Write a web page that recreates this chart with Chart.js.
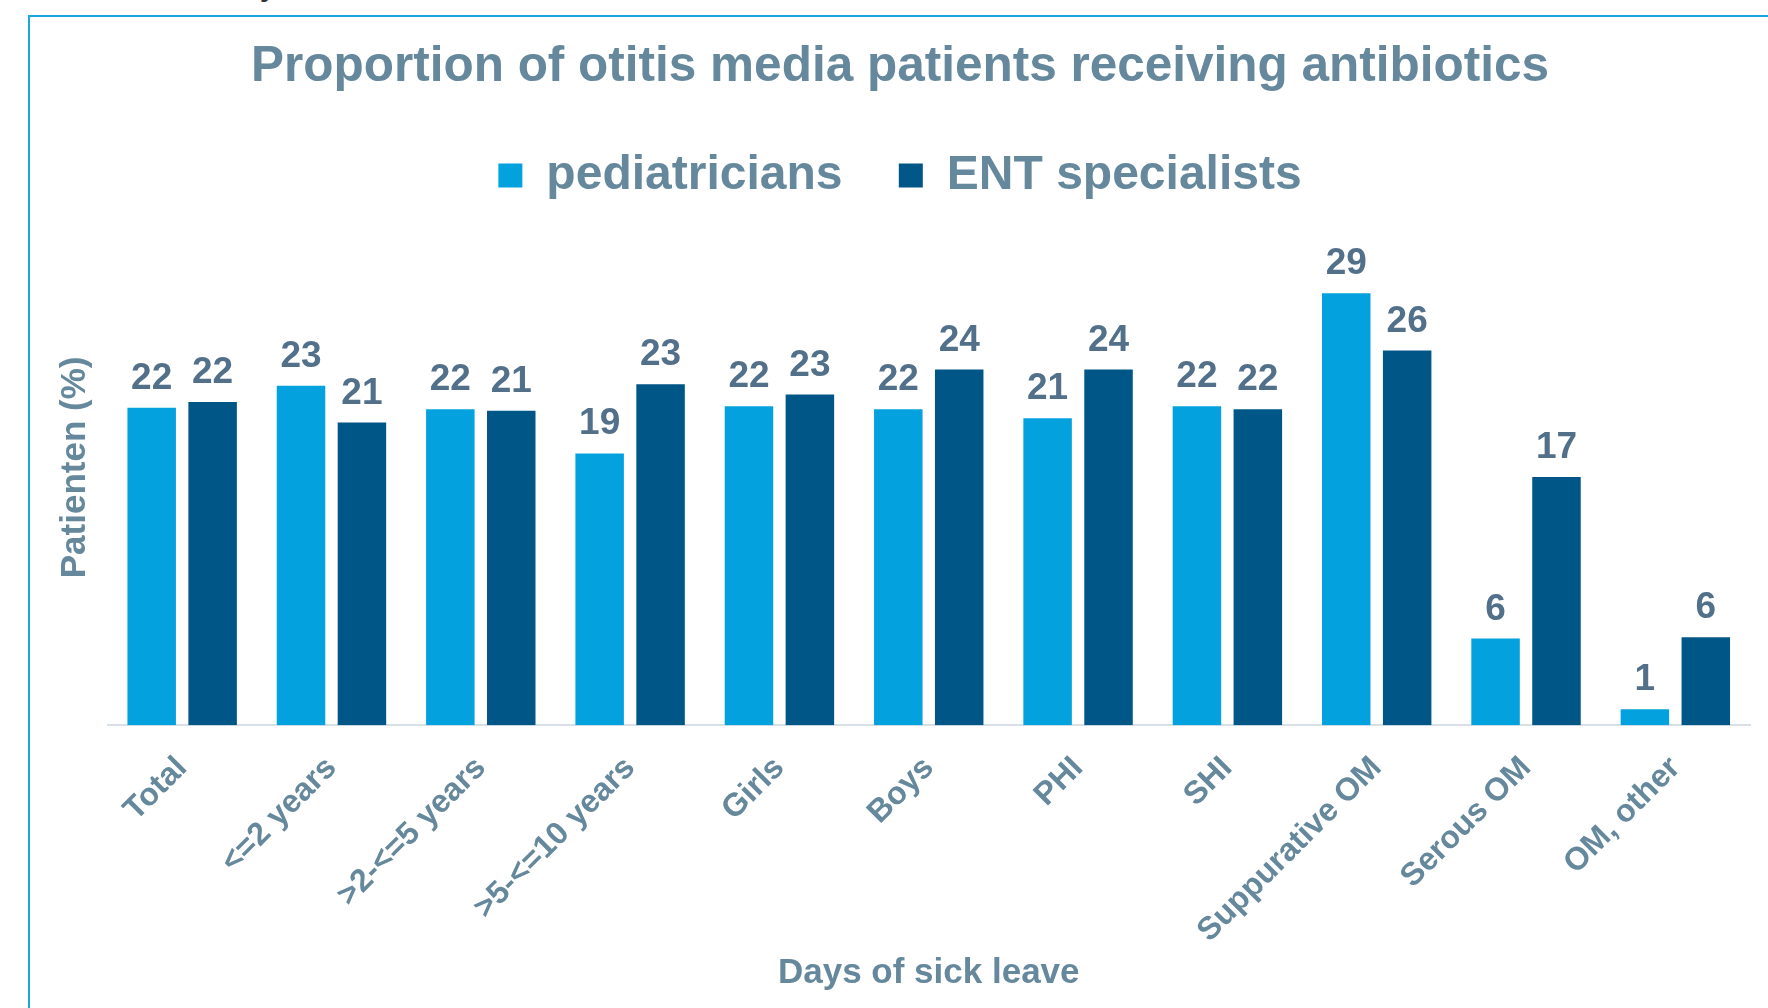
<!DOCTYPE html>
<html>
<head>
<meta charset="utf-8">
<script src="https://cdn.jsdelivr.net/npm/chart.js@4.4.1/dist/chart.umd.min.js"></script>
<style>
  html, body { margin: 0; padding: 0; background: #fff; overflow: hidden; }
  #frame { position: absolute; left: 28px; top: 15px; width: 1800px; height: 1100px; border: 2px solid #1ea6e0; }
  #stray { position: absolute; left: 260px; top: -27px; font: bold 28px "Liberation Sans", Arial, sans-serif; color: #333; line-height: 28px; }
  #chart { position: absolute; left: 0; top: 0; }
</style>
</head>
<body>
<div id="frame"></div>
<div id="stray">y</div>
<canvas id="chart" width="1768" height="1008"></canvas>
<script>
const categories = ['Total', '<=2 years', '>2-<=5 years', '>5-<=10 years', 'Girls', 'Boys', 'PHI', 'SHI', 'Suppurative OM', 'Serous OM', 'OM, other'];
const pediatricians = [21.6, 23.1, 21.5, 18.5, 21.7, 21.5, 20.9, 21.7, 29.4, 5.9, 1.1];
const entSpecialists = [22.0, 20.6, 21.4, 23.2, 22.5, 24.2, 24.2, 21.5, 25.5, 16.9, 6.0];

const FONT = '"Liberation Sans", Arial, sans-serif';
const textColor = '#66889c';

// value labels above each bar (rounded, like the original)
const valueLabels = {
  id: 'valueLabels',
  afterDatasetsDraw(chart) {
    const ctx = chart.ctx;
    ctx.save();
    ctx.font = 'bold 37px ' + FONT;
    ctx.fillStyle = '#53708a';
    ctx.textAlign = 'center';
    ctx.textBaseline = 'alphabetic';
    chart.data.datasets.forEach((ds, i) => {
      chart.getDatasetMeta(i).data.forEach((bar, j) => {
        ctx.fillText(Math.round(ds.data[j]), bar.x, bar.y - 19);
      });
    });
    ctx.restore();
  }
};

new Chart(document.getElementById('chart'), {
  type: 'bar',
  data: {
    labels: categories,
    datasets: [
      {
        label: 'pediatricians',
        data: pediatricians,
        backgroundColor: '#03a2df',
        categoryPercentage: 0.816,
        barPercentage: 0.796
      },
      {
        label: 'ENT specialists',
        data: entSpecialists,
        backgroundColor: '#005686',
        categoryPercentage: 0.816,
        barPercentage: 0.796
      }
    ]
  },
  options: {
    responsive: false,
    animation: false,
    devicePixelRatio: 1,
    layout: {
      padding: { left: 50, right: 18, top: 0, bottom: 0 }
    },
    plugins: {
      title: {
        display: true,
        text: 'Proportion of otitis media patients receiving antibiotics',
        color: textColor,
        font: { family: FONT, size: 49.5, weight: 'bold' },
        padding: { top: 38, bottom: 11 }
      },
      legend: {
        display: true,
        position: 'top',
        labels: {
          color: textColor,
          font: { family: FONT, size: 48, weight: 'bold' },
          boxWidth: 24,
          boxHeight: 24,
          padding: 43,
          // a little extra room between the two entries
          generateLabels(chart) {
            const items = Chart.defaults.plugins.legend.labels.generateLabels(chart);
            items[0].text += ' ';
            return items;
          }
        }
      },
      tooltip: { enabled: false }
    },
    scales: {
      x: {
        grid: { display: false, drawTicks: false },
        border: { display: true, color: '#d8dfe6', width: 2 },
        ticks: {
          color: textColor,
          font: { family: FONT, size: 32, weight: 'bold' },
          autoSkip: false,
          maxRotation: 45,
          minRotation: 45,
          padding: 24
        },
        title: {
          display: true,
          text: 'Days of sick leave',
          color: textColor,
          font: { family: FONT, size: 35, weight: 'bold' },
          padding: { top: -22, bottom: 14 }
        }
      },
      y: {
        min: 0,
        max: 35.1,
        grid: { display: false, drawTicks: false },
        border: { display: false },
        ticks: { display: false },
        title: {
          display: true,
          text: 'Patienten (%)',
          color: textColor,
          font: { family: FONT, size: 35, weight: 'bold' },
          padding: { top: 4, bottom: 11.5 }
        }
      }
    }
  },
  plugins: [valueLabels]
});
</script>
</body>
</html>
